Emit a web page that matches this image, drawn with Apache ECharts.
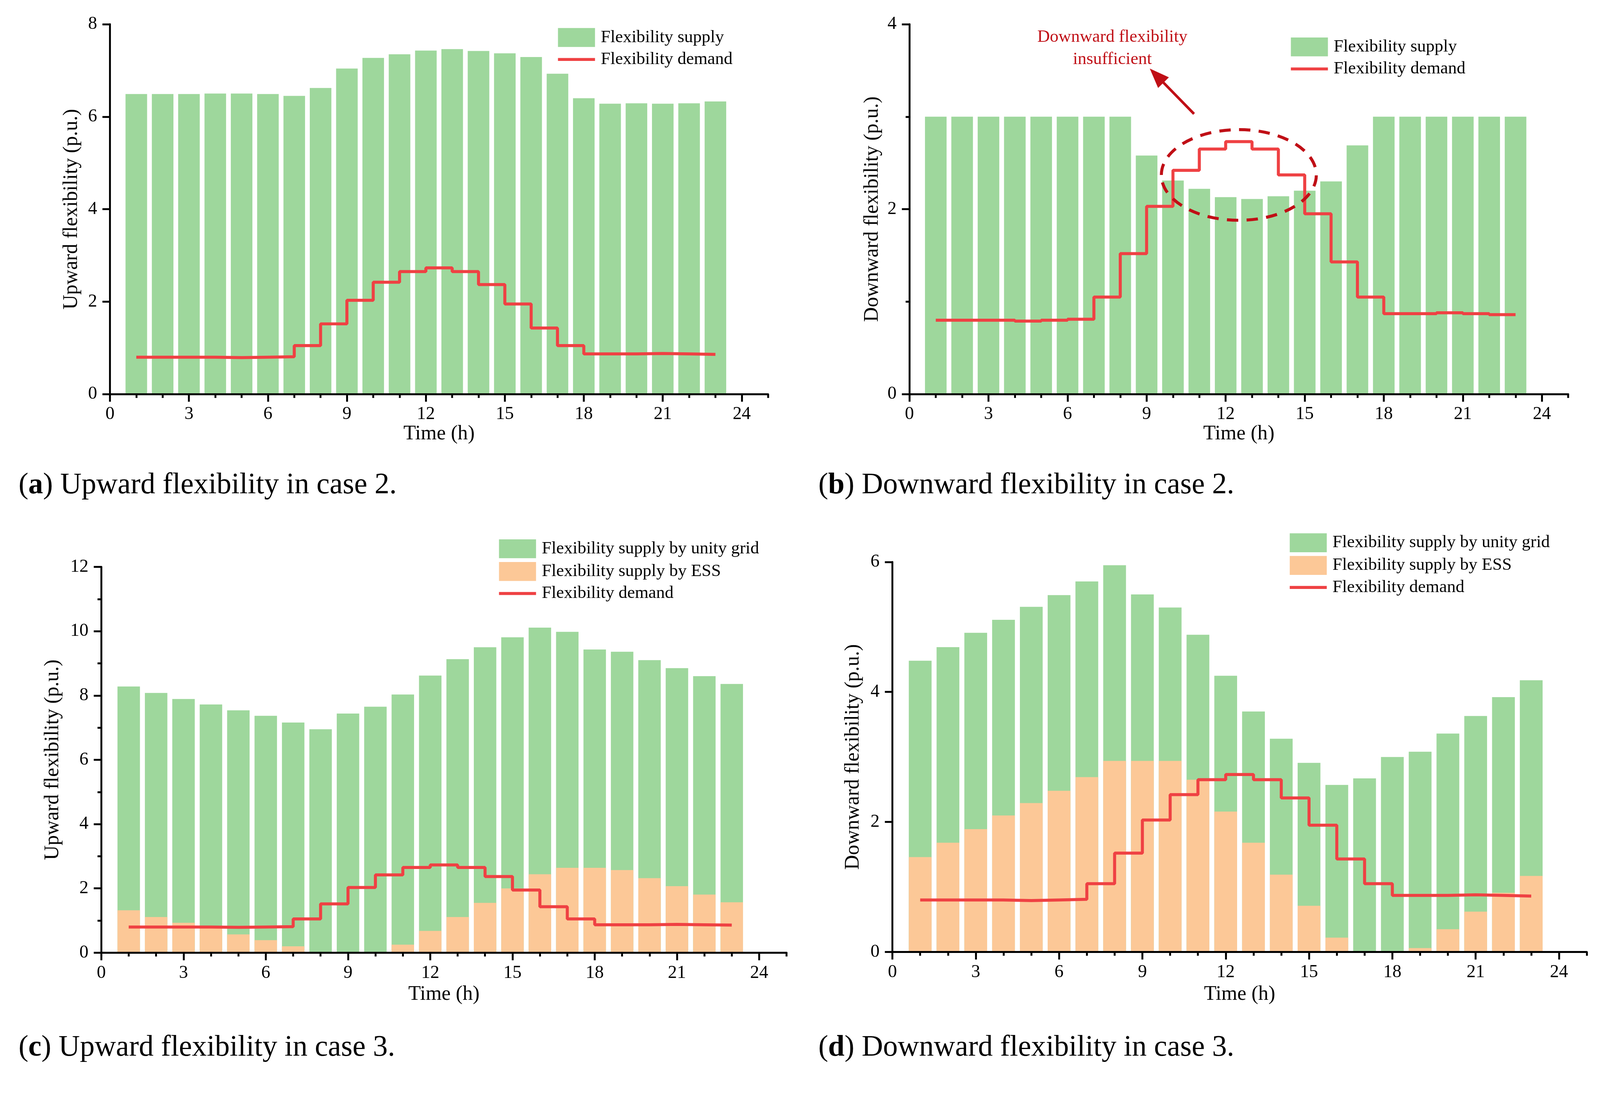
<!DOCTYPE html>
<html><head><meta charset="utf-8">
<script src="https://cdn.jsdelivr.net/npm/echarts@6/dist/echarts.min.js"></script>
<style>html,body{margin:0;padding:0;background:#fff;overflow:hidden}#c{width:100vw;height:100vh}</style>
</head><body><div id="c"></div>
<script>
// ---------------- data ----------------
const hours = [1,2,3,4,5,6,7,8,9,10,11,12,13,14,15,16,17,18,19,20,21,22,23];
const xTickValues = [0,3,6,9,12,15,18,21,24];
// flexibility demand (p.u.), same in every panel; value i holds for hour i..i+1
const demand = [0.80,0.80,0.80,0.79,0.80,0.81,1.05,1.52,2.03,2.42,2.65,2.73,2.65,2.37,1.95,1.43,1.05,0.87,0.87,0.88,0.87,0.86,0.86];
// (a) upward supply, case 2
const supplyUpCase2 = [6.49,6.49,6.49,6.50,6.50,6.49,6.45,6.62,7.04,7.27,7.35,7.43,7.46,7.42,7.37,7.29,6.93,6.40,6.28,6.29,6.28,6.29,6.33];
// (b) downward supply, case 2
const supplyDownCase2 = [3.00,3.00,3.00,3.00,3.00,3.00,3.00,3.00,2.58,2.31,2.22,2.13,2.11,2.14,2.20,2.30,2.69,3.00,3.00,3.00,3.00,3.00,3.00];
// (c) upward supply, case 3
const essUpCase3  = [1.32,1.11,0.93,0.77,0.57,0.39,0.20,0.00,0.00,0.00,0.25,0.68,1.11,1.55,2.00,2.44,2.64,2.64,2.57,2.32,2.07,1.81,1.57];
const gridUpCase3 = [6.96,6.97,6.96,6.95,6.97,6.98,6.96,6.95,7.44,7.65,7.78,7.94,8.02,7.95,7.81,7.67,7.34,6.79,6.79,6.78,6.78,6.79,6.79];
// (d) downward supply, case 3
const essDownCase3  = [1.46,1.68,1.89,2.10,2.29,2.48,2.69,2.94,2.94,2.94,2.65,2.16,1.68,1.19,0.71,0.22,0.00,0.00,0.06,0.35,0.62,0.91,1.17];
const gridDownCase3 = [3.02,3.01,3.02,3.01,3.02,3.01,3.01,3.01,2.56,2.36,2.23,2.09,2.02,2.09,2.20,2.35,2.67,3.00,3.02,3.01,3.01,3.01,3.01];

const yMax = [8, 4, 12, 6];
const yNames = ['Upward flexibility (p.u.)','Downward flexibility (p.u.)','Upward flexibility (p.u.)','Downward flexibility (p.u.)'];
const captionLetters = ['a','b','c','d'];
const captionTexts = ['Upward flexibility in case 2.','Downward flexibility in case 2.','Upward flexibility in case 3.','Downward flexibility in case 3.'];
const annotationLines = ['Downward flexibility','insufficient'];

const N_SUPPLY = 'Flexibility supply';
const N_DEMAND = 'Flexibility demand';
const N_GRID = 'Flexibility supply by unity grid';
const N_ESS = 'Flexibility supply by ESS';

// ---------------- style / layout (designed for 4233 x 2837, scaled to viewport) ----------------
const S = Math.min((window.innerWidth || 4233) / 4233, (window.innerHeight || 2837) / 2837);
const s = v => v * S;
const FONT = "'Liberation Serif','Times New Roman',serif";
const GREEN = '#9ed79c', ORANGE = '#fcc897', RED = '#ef4143', DARKRED = '#c00f16';
const grids = [
  {left:291,  top:64,   width:1741, height:979},
  {left:2406, top:64,   width:1743, height:979},
  {left:268,  top:1500, width:1813, height:1021},
  {left:2361, top:1487, width:1837, height:1032}
];
const yNameGap = [75, 71, 101, 77];
const xNameGap = [78, 78, 84, 86];
const yMinor = [false, true, true, false];
const legendPos = [
  {left:1471, top:69}, {left:3410, top:94}, {left:1315, top:1422}, {left:3407, top:1406}
];
const captionPos = [[49,1285],[2165,1285],[49,2773],[2165,2773]];

const pairs = arr => hours.map((h,i)=>[h, arr[i]]);
const sumPairs = (a, b) => hours.map((h,i)=>[h, +(a[i] + b[i]).toFixed(2)]);

const xAxes = [], yAxes = [], series = [], legends = [];
grids.forEach((g, gi) => {
  xAxes.push({
    gridIndex: gi, type:'value', min:0, max:25, interval:1, position:'bottom', z:10,
    axisLine:{show:true, onZero:false, lineStyle:{color:'#000', width:s(5)}},
    axisTick:{show:true, inside:false, length:s(10), lineStyle:{color:'#000', width:s(5)}},
    axisLabel:{show:false}, splitLine:{show:false}
  });
  xAxes.push({
    gridIndex: gi, type:'value', min:0, max:25, interval:3, position:'bottom', z:10,
    axisLine:{show:false, onZero:false},
    axisTick:{show:true, inside:false, length:s(20), customValues: xTickValues, lineStyle:{color:'#000', width:s(5)}},
    axisLabel:{show:true, customValues: xTickValues, margin:s(30), fontSize:s(48), fontFamily:FONT, color:'#000',
      formatter: v => (v > 24 ? '' : String(v))},
    splitLine:{show:false},
    name:'Time (h)', nameLocation:'middle', nameGap: s(xNameGap[gi]),
    nameTextStyle:{fontSize:s(54), fontFamily:FONT, color:'#000'}
  });
  yAxes.push({
    gridIndex: gi, type:'value', min:0, max:yMax[gi], interval:2, z:10,
    axisLine:{show:true, lineStyle:{color:'#000', width:s(5)}},
    axisTick:{show:true, inside:false, length:s(20), lineStyle:{color:'#000', width:s(5)}},
    minorTick:{show:yMinor[gi], splitNumber:2, length:s(10), lineStyle:{color:'#000', width:s(5)}},
    splitLine:{show:false}, minorSplitLine:{show:false},
    axisLabel:{margin:s(34), fontSize:s(48), fontFamily:FONT, color:'#000'},
    name: yNames[gi], nameLocation:'middle', nameGap: s(yNameGap[gi]),
    nameTextStyle:{fontSize:s(54), fontFamily:FONT, color:'#000'}
  });
});

const bw = gi => s(grids[gi].width / 25 * 0.82);
const barSeries = (gi, name, color, data, z) => ({
  type:'bar', name, xAxisIndex: gi*2, yAxisIndex: gi, data,
  barWidth: bw(gi), barGap:'-100%', itemStyle:{color}, z: z || 2
});
const demandSeries = gi => ({
  type:'line', name:N_DEMAND, xAxisIndex: gi*2, yAxisIndex: gi, data: pairs(demand),
  step:'end', symbol:'none', showSymbol:false, lineStyle:{color:RED, width:s(8)}, itemStyle:{color:RED}, z:5
});

series.push(barSeries(0, N_SUPPLY, GREEN, pairs(supplyUpCase2)));
series.push(demandSeries(0));
series.push(barSeries(1, N_SUPPLY, GREEN, pairs(supplyDownCase2)));
series.push(demandSeries(1));
// case 3: grid part sits on top of ESS part (green drawn to the total, ESS drawn over its lower part)
series.push(barSeries(2, N_GRID, GREEN, sumPairs(gridUpCase3, essUpCase3), 2));
series.push(barSeries(2, N_ESS, ORANGE, pairs(essUpCase3), 3));
series.push(demandSeries(2));
series.push(barSeries(3, N_GRID, GREEN, sumPairs(gridDownCase3, essDownCase3), 2));
series.push(barSeries(3, N_ESS, ORANGE, pairs(essDownCase3), 3));
series.push(demandSeries(3));

const LINE_ICON = 'path://M0 0H100V8H0Z';
const legendData = [[N_SUPPLY, N_DEMAND],[N_SUPPLY, N_DEMAND],[N_GRID, N_ESS, N_DEMAND],[N_GRID, N_ESS, N_DEMAND]];
legendData.forEach((d, gi) => {
  legends.push({
    left: s(legendPos[gi].left), top: s(legendPos[gi].top), orient:'vertical',
    itemWidth:s(98), itemHeight:s(50), itemGap:s(10), selectedMode:false, symbolKeepAspect:true,
    textStyle:{fontSize:s(46), fontFamily:FONT, color:'#000', padding:[0,0,0,s(10)]},
    data: d.map(n => n === N_DEMAND
      ? {name:n, icon:LINE_ICON, itemStyle:{color:RED, borderWidth:0}}
      : {name:n, icon:'rect', itemStyle:{color: n === N_ESS ? ORANGE : GREEN, borderWidth:0}})
  });
});

const chart = echarts.init(document.getElementById('c'), null, {renderer:'canvas'});
chart.setOption({
  animation:false, backgroundColor:'#fff',
  grid: grids.map(g => ({left:s(g.left), top:s(g.top), width:s(g.width), height:s(g.height), containLabel:false})),
  xAxis: xAxes, yAxis: yAxes, legend: legends, series
});

// ---------------- annotations ----------------
const P = (gi, x, y) => chart.convertToPixel({gridIndex: gi}, [x, y]);
const graphic = [];
captionLetters.forEach((l, i) => {
  graphic.push({
    type:'text', x: s(captionPos[i][0]), y: s(captionPos[i][1]), z:10,
    style:{
      text: '({b|' + l + '}) ' + captionTexts[i],
      fontSize:s(78), fontFamily:FONT, fill:'#000', verticalAlign:'middle',
      rich:{ b:{fontSize:s(78), fontFamily:FONT, fontWeight:'bold', fill:'#000'} }
    }
  });
});
// dashed ellipse around the shortage
const c0 = P(1, 12.5, 2.37);
const rx = P(1, 12.5 + 2.94, 2.37)[0] - c0[0];
const ry = c0[1] - P(1, 12.5, 2.37 + 0.49)[1];
graphic.push({type:'ellipse', shape:{cx:c0[0], cy:c0[1], rx, ry}, z:20,
  style:{fill:null, stroke:DARKRED, lineWidth:s(8), lineDash:[s(30), s(22)]}});
// arrow
const a0 = P(1, 10.8, 3.03), a1 = P(1, 9.12, 3.52);
const dx = a1[0]-a0[0], dy = a1[1]-a0[1], L = Math.hypot(dx, dy);
const ux = dx/L, uy = dy/L, headL = s(52), headW = s(20);
const base = [a1[0]-ux*headL, a1[1]-uy*headL];
graphic.push({type:'line', shape:{x1:a0[0], y1:a0[1], x2:base[0]+ux*4, y2:base[1]+uy*4}, z:20,
  style:{stroke:DARKRED, lineWidth:s(7)}});
graphic.push({type:'polygon', z:20, shape:{points:[a1, [base[0]-uy*headW, base[1]+ux*headW], [base[0]+uy*headW, base[1]-ux*headW]]},
  style:{fill:DARKRED}});
// annotation text
annotationLines.forEach((t, i) => {
  const p = P(1, 7.7, i === 0 ? 3.86 : 3.62);
  graphic.push({type:'text', x:p[0], y:p[1], z:20,
    style:{text:t, fontSize:s(46), fontFamily:FONT, fill:DARKRED, align:'center', verticalAlign:'middle'}});
});
chart.setOption({graphic});
</script></body></html>
